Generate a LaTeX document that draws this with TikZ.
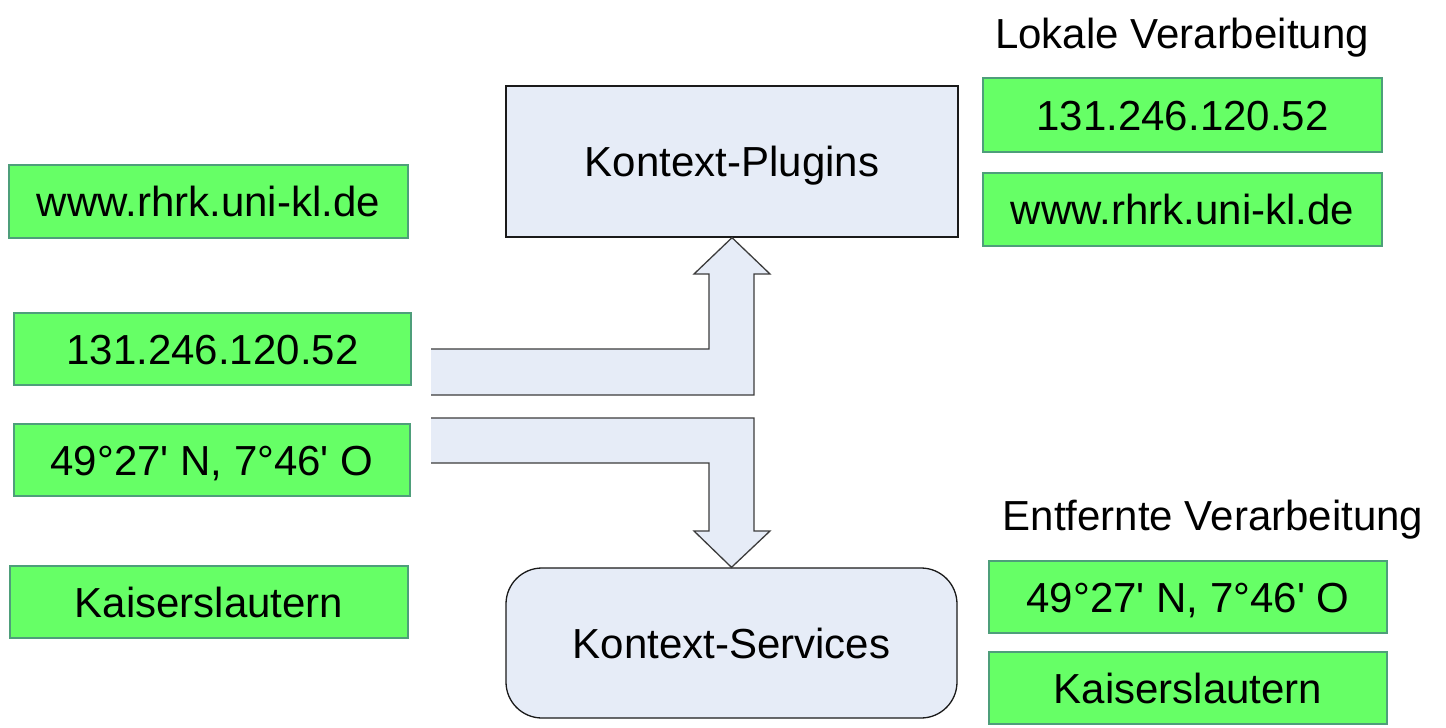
\documentclass[tikz,border=0pt]{standalone}
\usepackage{fontspec}
\setmainfont{Liberation Sans}
\definecolor{gfill}{HTML}{66FF66}
\definecolor{gborder}{HTML}{4E9E7A}
\definecolor{bfill}{HTML}{E6ECF7}
\definecolor{bline}{HTML}{1A1A1A}
\tikzset{
  txt/.style={font=\fontsize{42}{50}\selectfont, text height=30pt, text depth=0pt, inner sep=0pt},
  gbox/.style={txt, draw=gborder, fill=gfill, line width=1.8pt},
  bbox/.style={txt, draw=bline, fill=bfill, line width=1.3pt},
  fatarrow/.style={fill=bfill, draw=bline!85, line width=1.3pt, line join=miter}
}
\begin{document}
\begin{tikzpicture}[x=1pt,y=-1pt]
\useasboundingbox (0,0) rectangle (1446,728);
% left boxes
\node[gbox, minimum width=399pt, minimum height=73pt] (lw) at (208.5,201.5) {www.rhrk.uni-kl.de};
\node[gbox, minimum width=397pt, minimum height=72pt] (lip) at (212.5,349) {131.246.120.52};
\node[gbox, minimum width=396pt, minimum height=72pt] (lgeo) at (212,460) {49°27\textquotesingle{} N, 7°46\textquotesingle{} O};
\node[gbox, minimum width=398pt, minimum height=72pt] (lks) at (209,602) {Kaiserslautern};
% center boxes
\node[bbox, minimum width=452pt, minimum height=151pt] (plug) at (732,161.5) {Kontext-Plugins};
\node[bbox, rounded corners=36pt, minimum width=451pt, minimum height=150pt] (serv) at (731.5,643) {Kontext-Services};
% right boxes
\node[txt] (lbl1) at (1182,33) {Lokale Verarbeitung};
\node[gbox, minimum width=399pt, minimum height=74pt] (rip) at (1182.5,115) {131.246.120.52};
\node[gbox, minimum width=399pt, minimum height=73pt] (rw) at (1182.5,209.5) {www.rhrk.uni-kl.de};
\node[txt] (lbl2) at (1213,515) {Entfernte Verarbeitung};
\node[gbox, minimum width=398pt, minimum height=72pt] (rgeo) at (1188,597) {49°27\textquotesingle{} N, 7°46\textquotesingle{} O};
\node[gbox, minimum width=398pt, minimum height=72pt] (rks) at (1188,688) {Kaiserslautern};
% free ends of the fat arrows
\coordinate (upA) at (431,349);
\coordinate (upB) at (431,395);
\coordinate (dnA) at (431,418);
\coordinate (dnB) at (431,463);
% upward fat arrow
\fill[bfill] (upA) -- (709,349) -- (709,274) -- (694,274) -- (plug.south) -- (770,274) -- (754,274) -- (754,395) -- (upB) -- cycle;
\draw[fatarrow, fill=none] (upA) -- (709,349) -- (709,274) -- (694,274) -- (plug.south) -- (770,274) -- (754,274) -- (754,395) -- (upB);
% downward fat arrow
\fill[bfill] (dnA) -- (754,418) -- (754,531) -- (770,531) -- (serv.north) -- (694,531) -- (709,531) -- (709,463) -- (dnB) -- cycle;
\draw[fatarrow, fill=none] (dnA) -- (754,418) -- (754,531) -- (770,531) -- (serv.north) -- (694,531) -- (709,531) -- (709,463) -- (dnB);
\end{tikzpicture}
\end{document}
